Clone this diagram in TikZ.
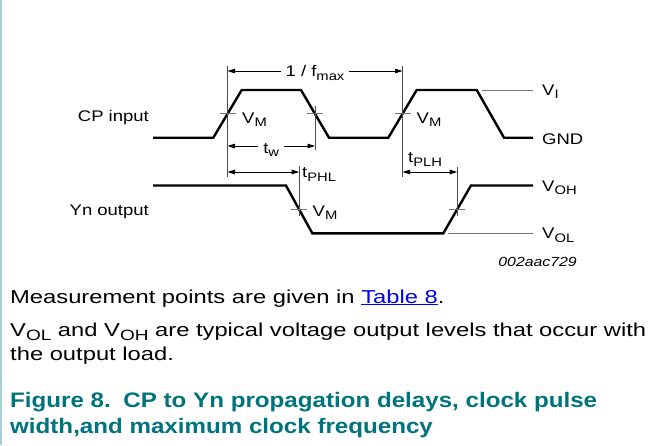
\documentclass[tikz,border=0pt]{standalone}
\usepackage{fontspec}
\usepackage{graphicx}
\setmainfont{Liberation Sans}[FakeStretch=1.2]
\newfontfamily\bodyfont{Liberation Sans}[FakeStretch=1.27]
\newfontfamily\capfont{Liberation Sans}[FakeStretch=1.15]
\usetikzlibrary{arrows.meta}
\definecolor{capteal}{RGB}{0,115,125}
\definecolor{framegray}{RGB}{165,208,214}
\definecolor{linkblue}{RGB}{0,0,238}
\newcommand{\sig}[2]{#1\raisebox{-0.24em}{\scalebox{0.8}{#2}}}

\begin{document}
\begin{tikzpicture}[x=1pt,y=-1pt,>={Triangle[length=7.5pt,width=4.5pt]}]
  % styles
  \tikzstyle{wave} = [line width=2.4pt,line join=miter];
  \tikzstyle{guide} = [black!70,line width=0.9pt];
  \tikzstyle{refline} = [black!55,line width=1pt];
  \tikzstyle{vtick} = [black!55,line width=1pt];
  \tikzstyle{dim} = [<->,line width=0.9pt];
  \tikzstyle{lab} = [font=\fontsize{15.4}{18}\selectfont,inner sep=0pt];
  \tikzstyle{gaplab} = [lab,fill=white,inner xsep=5pt,inner ysep=1pt];
  \tikzstyle{body} = [font=\bodyfont\fontsize{18.7}{24}\selectfont,inner sep=0pt,anchor=base west];
  \tikzstyle{caption} = [font=\capfont\bfseries\fontsize{21}{26}\selectfont,text=capteal,inner sep=0pt,anchor=base west];

  \useasboundingbox (0,0) rectangle (659,445);
  \draw[framegray,line width=2pt] (1,0) -- (1,445);

  % waveform corners
  \coordinate (cp0) at (153,137.7);
  \coordinate (cp1) at (213.3,137.7);
  \coordinate (cp2) at (241.7,90);
  \coordinate (cp3) at (301,90);
  \coordinate (cp4) at (329,137.7);
  \coordinate (cp5) at (388.3,137.7);
  \coordinate (cp6) at (416.7,90);
  \coordinate (cp7) at (476.7,90);
  \coordinate (cp8) at (504,137.7);
  \coordinate (cp9) at (533,137.7);
  \coordinate (yn0) at (153,185.5);
  \coordinate (yn1) at (286,185.5);
  \coordinate (yn2) at (312.3,233.3);
  \coordinate (yn3) at (443.3,233.3);
  \coordinate (yn4) at (471,185.5);
  \coordinate (yn5) at (533,185.5);

  % measurement points
  \coordinate (m1) at (227.5,113.8);
  \coordinate (m2) at (315,113.8);
  \coordinate (m3) at (402.5,113.8);
  \coordinate (m4) at (299.2,209.4);
  \coordinate (m5) at (457.2,209.4);

  % waveforms
  \draw[wave] (cp0) -- (cp1) -- (cp2) -- (cp3) -- (cp4) -- (cp5) -- (cp6) -- (cp7) -- (cp8) -- (cp9);
  \draw[wave] (yn0) -- (yn1) -- (yn2) -- (yn3) -- (yn4) -- (yn5);

  % reference levels
  \coordinate (vi0) at (481.7,90);
  \coordinate (vi1) at (533,90);
  \coordinate (vol0) at (448,233.3);
  \coordinate (vol1) at (533,233.3);
  \draw[refline] (vi0) -- (vi1);
  \draw[refline] (vol0) -- (vol1);

  % guide lines
  \foreach \x/\ya/\yb in {227.5/66/177, 315/106/150, 402.5/66/177, 299.2/166/216, 457.2/167/216}
    \draw[guide] (\x,\ya) -- (\x,\yb);
  \foreach \m in {m1,m2,m3,m4,m5}
    \draw[vtick] ([xshift=-8pt]\m) -- ([xshift=8pt]\m);

  % dimension arrows
  \coordinate (f1) at (227.5,71);
  \coordinate (f2) at (402.5,71);
  \coordinate (w1) at (227.5,146);
  \coordinate (w2) at (315,146);
  \coordinate (h1) at (227.5,172);
  \coordinate (h2) at (299.2,172);
  \coordinate (l1) at (402.5,172);
  \coordinate (l2) at (457.2,172);
  \draw[dim] (f1) -- node[gaplab,anchor=base,yshift=-5.7pt] {1 / \sig{f}{max}} (f2);
  \draw[dim] (w1) -- node[gaplab,anchor=base,yshift=-7pt] {\sig{t}{w}} (w2);
  \draw[dim] (h1) -- (h2);
  \draw[dim] (l1) -- (l2);

  % labels
  \node[lab,anchor=base east] (cpin) at (149,121) {CP input};
  \node[lab,anchor=base east] (ynout) at (149,215) {Yn output};
  \node[lab,anchor=base west] (vm1) at (242,123) {\sig{V}{M}};
  \node[lab,anchor=base west] (vm2) at (416.5,123) {\sig{V}{M}};
  \node[lab,anchor=base west] (vm3) at (312.5,216) {\sig{V}{M}};
  \node[lab,anchor=base west] (tphl) at (302,177.5) {\sig{t}{PHL}};
  \node[lab,anchor=base west] (tplh) at (408,162.5) {\sig{t}{PLH}};
  \node[lab,anchor=base west] (vi) at (542,95.2) {\sig{V}{I}};
  \node[lab,anchor=base west] (gnd) at (542,144.3) {GND};
  \node[lab,anchor=base west] (voh) at (542,191.2) {\sig{V}{OH}};
  \node[lab,anchor=base west] (vol) at (542,238.8) {\sig{V}{OL}};
  \node[inner sep=0pt,anchor=base east,font=\itshape\fontsize{13.2}{16}\selectfont] (code) at (577,266.7) {002aac729};

  % notes
  \node[body] (note1) at (10,303) {Measurement points are given in \textcolor{linkblue}{\underline{Table 8}}.};
  \node[body] (note2) at (10,336) {\sig{V}{OL} and \sig{V}{OH} are typical voltage output levels that occur with};
  \node[body] (note3) at (10,360) {the output load.};
  \node[caption] (cap1) at (10,407) {Figure 8.\hspace{0.6em}CP to Yn propagation delays, clock pulse};
  \node[caption] (cap2) at (10,433) {width,and maximum clock frequency};
\end{tikzpicture}
\end{document}
